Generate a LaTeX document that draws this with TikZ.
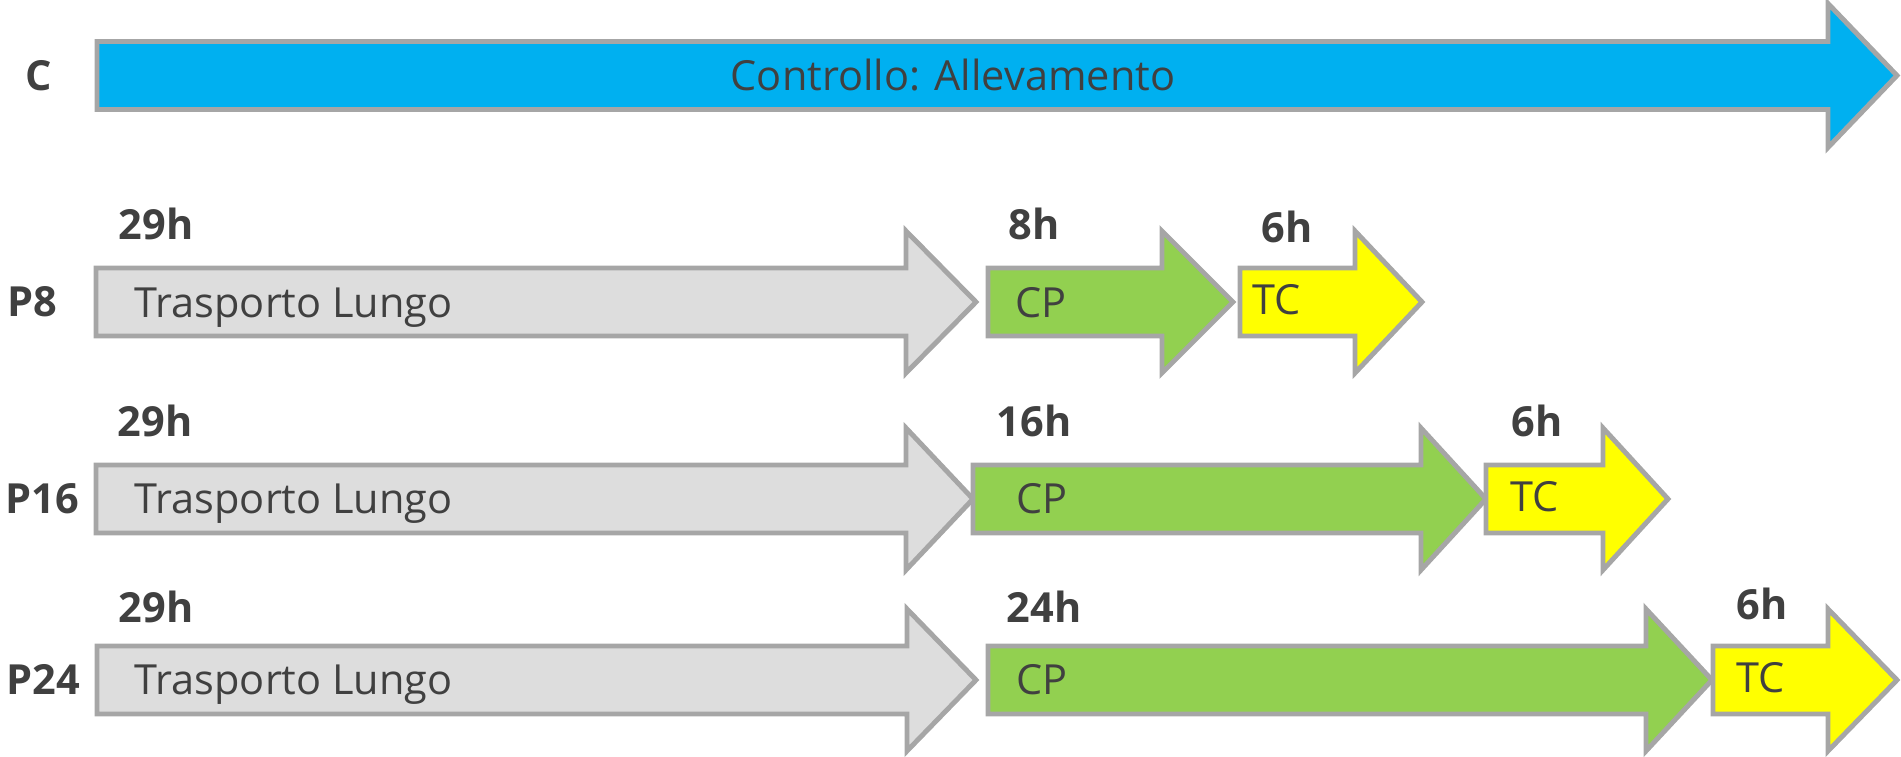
\documentclass[tikz,border=0pt]{standalone}
\usepackage{fontspec}
\setmainfont{Open Sans}
\usetikzlibrary{positioning}
\definecolor{colblue}{RGB}{0,176,240}
\definecolor{colgrey}{RGB}{221,221,221}
\definecolor{colgreen}{RGB}{146,208,80}
\definecolor{colyellow}{RGB}{255,255,0}
\definecolor{colline}{RGB}{166,166,166}
\definecolor{coltext}{RGB}{64,64,64}
\tikzset{%
    arrowline/.style = { draw=colline, line width=1.4pt, line join=miter },
      bartext/.style = { text=coltext, inner sep=0pt, anchor=base west,
                         font=\fontsize{11.8}{14}\selectfont },
     hourtext/.style = { bartext, font=\fontsize{11.8}{14}\selectfont\bfseries },
      rowname/.style = { hourtext }
}
% fill, left end, head start, tip, centre line
\newcommand{\blockarrow}[5]{%
  \draw[arrowline, fill=#1] (#2,#5+0.34) -- (#3,#5+0.34) -- (#3,#5+0.71)
    -- (#4,#5) -- (#3,#5-0.71) -- (#3,#5-0.34) -- (#2,#5-0.34) -- cycle;}

\begin{document}
\begin{tikzpicture}

  \useasboundingbox (0,0) rectangle (19.01,-7.57);

  % control row
  \draw[arrowline, fill=colblue] (0.97,-0.415) -- (18.28,-0.415) -- (18.28,-0.035)
    -- (18.97,-0.755) -- (18.28,-1.475) -- (18.28,-1.095) -- (0.97,-1.095) -- cycle;
  \node[rowname, anchor=base] (c) at (0.39,-0.91) {C};
  \node[bartext, anchor=base] (ctrl) at (9.53,-0.91) {Controllo: Allevamento};

  % P8
  \blockarrow{colgrey}{0.96}{9.06}{9.76}{-3.02}
  \blockarrow{colgreen}{9.88}{11.62}{12.33}{-3.02}
  \blockarrow{colyellow}{12.40}{13.55}{14.22}{-3.02}
  \node[rowname] (p8) at (0.07,-3.17) {P8};
  \node[bartext] (tl8) at (1.34,-3.18) {Trasporto Lungo};
  \node[bartext] (cp8) at (10.15,-3.18) {CP};
  \node[bartext] (tc8) at (12.52,-3.15) {TC};
  \node[hourtext] (h29a) at (1.18,-2.40) {29h};
  \node[hourtext] (h8) at (10.08,-2.40) {8h};
  \node[hourtext] (h6a) at (12.61,-2.43) {6h};

  % P16
  \blockarrow{colgrey}{0.96}{9.06}{9.73}{-4.99}
  \blockarrow{colgreen}{9.73}{14.21}{14.86}{-4.99}
  \blockarrow{colyellow}{14.86}{16.03}{16.68}{-4.99}
  \node[rowname] (p16) at (0.05,-5.14) {P16};
  \node[bartext] (tl16) at (1.34,-5.14) {Trasporto Lungo};
  \node[bartext] (cp16) at (10.16,-5.14) {CP};
  \node[bartext] (tc16) at (15.10,-5.12) {TC};
  \node[hourtext] (h29b) at (1.17,-4.37) {29h};
  \node[hourtext] (h16) at (9.96,-4.37) {16h};
  \node[hourtext] (h6b) at (15.11,-4.37) {6h};

  % P24
  \blockarrow{colgrey}{0.97}{9.07}{9.76}{-6.80}
  \blockarrow{colgreen}{9.88}{16.46}{17.12}{-6.80}
  \blockarrow{colyellow}{17.13}{18.28}{18.97}{-6.80}
  \node[rowname] (p24) at (0.06,-6.95) {P24};
  \node[bartext] (tl24) at (1.34,-6.95) {Trasporto Lungo};
  \node[bartext] (cp24) at (10.16,-6.95) {CP};
  \node[bartext] (tc24) at (17.36,-6.93) {TC};
  \node[hourtext] (h29c) at (1.18,-6.23) {29h};
  \node[hourtext] (h24) at (10.06,-6.23) {24h};
  \node[hourtext] (h6c) at (17.36,-6.20) {6h};

\end{tikzpicture}
\end{document}
